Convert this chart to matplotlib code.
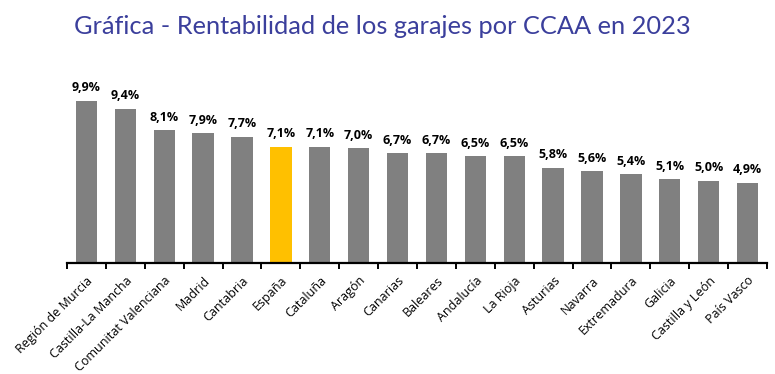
import matplotlib
matplotlib.use("Agg")
import matplotlib.pyplot as plt
import numpy as np

categories = ["Región de Murcia", "Castilla-La Mancha", "Comunitat Valenciana", "Madrid",
              "Cantabria", "España", "Cataluña", "Aragón", "Canarias", "Baleares",
              "Andalucía", "La Rioja", "Asturias", "Navarra", "Extremadura", "Galicia",
              "Castilla y León", "País Vasco"]
values = [9.9, 9.4, 8.1, 7.9, 7.7, 7.1, 7.1, 7.0, 6.7, 6.7, 6.5, 6.5, 5.8, 5.6, 5.4, 5.1, 5.0, 4.9]
highlight = "España"
title = "Gráfica - Rentabilidad de los garajes por CCAA en 2023"

plt.rcParams['font.family'] = ['Open Sans', 'DejaVu Sans']

fig = plt.figure(figsize=(7.75, 3.74), dpi=100)
ax = fig.add_axes([67/775, 1-263/374, 700/775, (263-82.6)/374])

x = np.arange(len(categories))
colors = ["#FFC000" if c == highlight else "#808080" for c in categories]
ax.bar(x, values, width=0.55, color=colors)
for xi, v in zip(x, values):
    ax.text(xi, v + 0.4, f"{v:.1f}%".replace(".", ","), ha="center", va="bottom",
            fontsize=9, fontweight="bold", color="black")

ax.set_xlim(-0.5, len(categories) - 0.5)
ax.set_ylim(0, 11)
ax.set_yticks([])
for s in ["left", "right", "top"]:
    ax.spines[s].set_visible(False)
ax.spines["bottom"].set_linewidth(1.6)
ax.set_xticks(x)
ax.set_xticklabels(categories, rotation=45, ha="right", rotation_mode="anchor", fontsize=9)
ax.tick_params(axis="x", which="major", length=0, pad=8)
ax.set_xticks(np.arange(len(categories) + 1) - 0.5, minor=True)
ax.tick_params(axis="x", which="minor", length=4, width=1.4, direction="out")

fig.text(74/775, 1-27/374, title, fontsize=18.3, color="#3B3F9C", va="center", ha="left",
         family=["Lato", "DejaVu Sans"])

fig.savefig("out.png", dpi=100)
